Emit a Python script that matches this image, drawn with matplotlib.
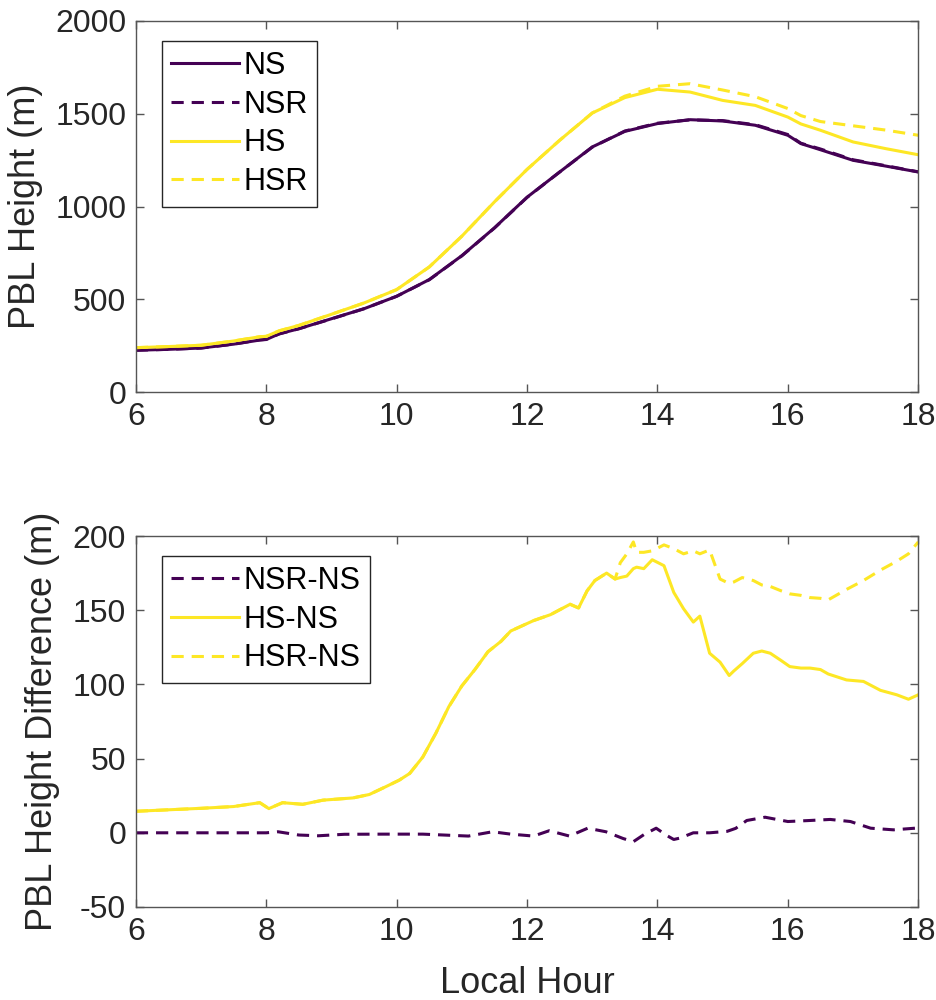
import numpy as np
import matplotlib
matplotlib.use("Agg")
import matplotlib.pyplot as plt
from matplotlib.ticker import FuncFormatter

plt.rcParams['font.family'] = ['Liberation Sans', 'DejaVu Sans']

# Top panel: PBL height (m) vs local hour
t_top = [6, 6.5, 7, 7.5, 7.9, 8.0, 8.2, 8.5, 9, 9.5, 10, 10.5, 11, 11.5,
         12, 12.5, 13, 13.5, 14, 14.5, 15, 15.5, 16, 16.2, 16.5, 17, 17.5, 18]
ns = [225, 230, 237, 258, 280, 283, 314, 341, 395, 449, 516, 606, 735, 885,
      1050, 1186, 1321, 1405, 1447, 1468, 1461, 1438, 1384, 1339, 1306, 1249, 1218, 1186]
nsr = [225, 230, 237, 258, 281, 284, 313, 341, 394, 449, 516, 605, 734, 884,
       1049, 1186, 1320, 1407, 1449, 1467, 1463, 1441, 1388, 1341, 1310, 1252, 1220, 1187]
hs = [239, 245, 252, 275, 298, 300, 330, 359, 419, 480, 552, 674, 840, 1025,
      1200, 1357, 1504, 1587, 1632, 1617, 1572, 1545, 1482, 1445, 1411, 1348, 1312, 1279]
hsr = [239, 245, 252, 275, 298, 300, 330, 359, 419, 480, 552, 674, 840, 1025,
       1200, 1357, 1504, 1595, 1648, 1662, 1628, 1592, 1528, 1490, 1458, 1435, 1412, 1384]

# Bottom panel: differences (m)
t_diff = [6, 6.5, 7, 7.5, 7.9, 8.04, 8.25, 8.56, 8.87, 9.33, 9.58, 9.83, 10.04, 10.2, 10.4,
          10.6, 10.8, 11, 11.2, 11.4, 11.6, 11.75, 12.1, 12.36, 12.66, 12.79, 12.92, 13.04,
          13.22, 13.35, 13.43, 13.53, 13.63, 13.68, 13.79, 13.92, 14.1, 14.25, 14.4, 14.55,
          14.65, 14.8, 14.96, 15.1, 15.17, 15.3, 15.47, 15.6, 15.73, 15.9, 16.03, 16.2,
          16.34, 16.5, 16.62, 16.9, 17.16, 17.42, 17.67, 17.85, 18]
hs_ns = [14.5, 15.5, 16.5, 17.7, 20.3, 16.3, 20.3, 19.2, 22, 23.5, 25.8, 31, 35.5, 40, 51,
         67, 85, 99, 110, 122, 129, 136, 143, 147, 154, 151.5, 163, 170,
         175, 171, 172, 173, 178, 179, 178, 184, 180, 162, 151, 142,
         146, 121, 115, 106, 109, 114, 121, 122.5, 121, 116, 112, 111,
         111, 110, 107, 103, 102, 96, 93, 90, 93]
hsr_ns = [14.5, 15.5, 16.5, 17.7, 20.3, 16.3, 20.3, 19.2, 22, 23.5, 25.8, 31, 35.5, 40, 51,
          67, 85, 99, 110, 122, 129, 136, 143, 147, 154, 151.5, 163, 170,
          175, 171, 182, 188, 196, 189, 189, 190, 194, 191.5, 188, 190,
          188, 190.6, 171, 168, 169, 172, 170, 167, 166, 163, 161, 160,
          158.5, 158, 157, 164, 170, 177, 183, 188, 196]
t_nsr = [6, 7, 8, 8.18, 8.5, 8.8, 9.2, 9.8, 10.4, 11.1, 11.47, 11.75, 12.1, 12.34, 12.65,
         12.93, 13.21, 13.47, 13.63, 13.8, 13.98, 14.15, 14.25, 14.35, 14.55, 14.8, 15.07,
         15.2, 15.37, 15.65, 16.0, 16.34, 16.65, 16.96, 17.27, 17.62, 17.95, 18]
nsr_ns = [0, 0, 0, 0.7, -1.5, -2, -1, -0.9, -0.9, -2.2, 0.7, -0.9, -2.2, 1.4, -2.2,
          3.1, 0.7, -3.8, -6, -1, 3.1, -2, -4.5, -3.5, 0, 0, 1,
          3, 8.3, 10.5, 7.6, 8.3, 9, 7.6, 3.1, 2, 3.1, 3.4]

purple = '#440154'
yellow = '#FDE725'
dash = (0, (4, 2.6))
lw = 2.2
fs_tick = 23
fs_lab = 26
fs_leg = 22
dark = '#262626'

fig = plt.figure(figsize=(9.37, 10), dpi=100)
ax1 = fig.add_axes([0.145, 0.608, 0.835, 0.371])
ax2 = fig.add_axes([0.145, 0.093, 0.835, 0.371])

ax1.plot(t_top, ns, color=purple, lw=lw, label='NS')
ax1.plot(t_top, nsr, color=purple, lw=lw, ls=dash, label='NSR')
ax1.plot(t_top, hs, color=yellow, lw=lw, label='HS')
ax1.plot(t_top, hsr, color=yellow, lw=lw, ls=dash, label='HSR')
ax1.set_ylim(0, 2000)
ax1.set_yticks(np.arange(0, 2001, 500))
ax1.set_ylabel('PBL Height (m)', fontsize=fs_lab, color=dark, labelpad=9)

ax2.plot(t_nsr, nsr_ns, color=purple, lw=lw, ls=dash, label='NSR-NS')
ax2.plot(t_diff, hs_ns, color=yellow, lw=lw, label='HS-NS')
ax2.plot(t_diff, hsr_ns, color=yellow, lw=lw, ls=dash, label='HSR-NS')
ax2.set_ylim(-50, 200)
ax2.set_yticks(np.arange(-50, 201, 50))
ax2.set_ylabel('PBL Height Difference (m)', fontsize=fs_lab, color=dark, labelpad=9)
ax2.set_xlabel('Local Hour', fontsize=fs_lab, color=dark, labelpad=14)

plain = FuncFormatter(lambda v, p: '%d' % v)
for ax in (ax1, ax2):
    ax.set_xlim(6, 18)
    ax.set_xticks(np.arange(6, 19, 2))
    ax.xaxis.set_major_formatter(plain)
    ax.yaxis.set_major_formatter(plain)
    ax.tick_params(direction='in', top=True, right=True, length=6, width=1,
                   labelsize=fs_tick, colors='#555555', labelcolor=dark, pad=7)
    for s in ax.spines.values():
        s.set_color('#555555')
        s.set_linewidth(1)
    leg = ax.legend(loc='upper left', bbox_to_anchor=(0.033, 0.945), borderaxespad=0,
                    fontsize=fs_leg, handlelength=2.2, handletextpad=0.15,
                    labelspacing=0.28, fancybox=False, framealpha=1,
                    borderpad=0.32)
    leg.get_frame().set_edgecolor(dark)
    leg.get_frame().set_linewidth(1)

fig.savefig('out.png', dpi=100)
